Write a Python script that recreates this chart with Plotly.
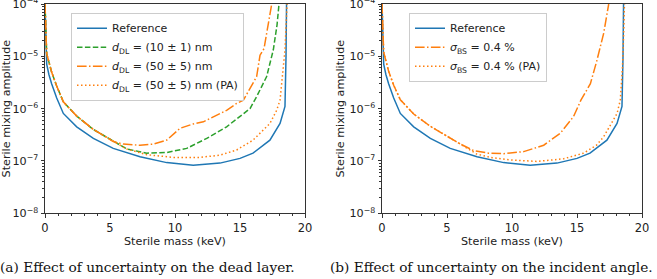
import plotly.graph_objects as go

# ---------------- data ----------------
# Reference curve (same in both panels)
ref_x = [0.0, 0.05, 0.13, 0.3, 0.51, 0.9, 1.41, 2.44, 3.72, 5.25, 7.31, 9.36, 11.4, 13.46, 15.0, 16.0, 17.3, 18.08, 18.46, 18.54, 18.58]
ref_y = [1e-4, 2.0e-5, 7.1e-6, 4.5e-6, 3.0e-6, 1.6e-6, 8.1e-7, 4.5e-7, 2.7e-7, 1.74e-7, 1.2e-7, 9.3e-8, 8.3e-8, 9.1e-8, 1.12e-7, 1.41e-7, 2.5e-7, 5.2e-7, 1.1e-6, 1.0e-5, 1e-4]

# (a) dead layer d_DL = (10 +- 1) nm
dl10_x = [0.0, 0.05, 0.13, 0.51, 0.9, 1.41, 2.44, 3.72, 5.25, 6.28, 7.82, 9.36, 10.9, 12.44, 13.97, 15.0, 15.77, 16.28, 17.05, 17.56, 17.85, 18.0]
dl10_y = [1e-4, 3.2e-5, 1.12e-5, 5.0e-6, 2.7e-6, 1.35e-6, 7.2e-7, 4.0e-7, 2.35e-7, 1.7e-7, 1.41e-7, 1.45e-7, 1.74e-7, 2.7e-7, 4.5e-7, 7.1e-7, 1.0e-6, 1.7e-6, 4.1e-6, 1.32e-5, 4.0e-5, 1e-4]

# (a) dead layer d_DL = (50 +- 5) nm
dl50_x = [0.0, 0.05, 0.13, 0.51, 0.9, 1.41, 2.44, 3.72, 5.25, 6.03, 7.31, 8.33, 9.36, 10.38, 11.4, 12.18, 13.2, 13.97, 14.74, 15.26, 16.28, 16.54, 16.85, 17.05, 17.3, 17.44]
dl50_y = [1e-4, 3.2e-5, 1.12e-5, 5.0e-6, 2.7e-6, 1.35e-6, 7.2e-7, 4.0e-7, 2.35e-7, 2.1e-7, 2.0e-7, 2.1e-7, 2.5e-7, 4.2e-7, 5.1e-7, 5.6e-7, 7.6e-7, 9.3e-7, 1.26e-6, 1.45e-6, 4.1e-6, 1.05e-5, 1.41e-5, 2.75e-5, 6.6e-5, 1e-4]

# (a) dead layer d_DL = (50 +- 5) nm (PA)
dl50pa_x = [0.0, 0.05, 0.13, 0.51, 0.9, 1.41, 2.44, 3.72, 5.25, 6.28, 7.82, 9.87, 11.9, 13.46, 14.74, 16.0, 17.3, 17.82, 18.08, 18.2, 18.46, 18.62]
dl50pa_y = [1e-4, 3.2e-5, 1.12e-5, 5.0e-6, 2.7e-6, 1.35e-6, 7.2e-7, 4.0e-7, 2.35e-7, 1.7e-7, 1.32e-7, 1.17e-7, 1.17e-7, 1.29e-7, 1.62e-7, 2.5e-7, 5.2e-7, 9.3e-7, 1.45e-6, 3.0e-6, 1.32e-5, 1e-4]

# (b) incident angle sigma_BS = 0.4 %
bs_x = [0.0, 0.05, 0.13, 0.51, 0.9, 1.41, 2.44, 3.72, 4.74, 6.03, 7.05, 8.2, 9.36, 10.9, 12.44, 13.72, 14.74, 15.3, 16.03, 16.54, 17.05, 17.3, 17.44]
bs_y = [1e-4, 3.5e-5, 1.2e-5, 5.2e-6, 2.8e-6, 1.48e-6, 7.9e-7, 4.6e-7, 3.2e-7, 2.1e-7, 1.58e-7, 1.41e-7, 1.38e-7, 1.51e-7, 2.0e-7, 3.4e-7, 7.1e-7, 1.45e-6, 3.0e-6, 8.5e-6, 2.75e-5, 6.6e-5, 1e-4]

# (b) incident angle sigma_BS = 0.4 % (PA)
bspa_x = [0.0, 0.05, 0.13, 0.51, 0.9, 1.41, 2.44, 3.72, 4.74, 6.03, 7.3, 8.5, 9.87, 11.9, 13.97, 15.5, 16.5, 17.05, 17.6, 18.08, 18.33, 18.5, 18.6, 18.65]
bspa_y = [1e-4, 3.5e-5, 1.2e-5, 5.2e-6, 2.8e-6, 1.48e-6, 7.9e-7, 4.6e-7, 3.2e-7, 2.1e-7, 1.35e-7, 1.15e-7, 1.05e-7, 9.8e-8, 1.1e-7, 1.41e-7, 2.0e-7, 2.9e-7, 5.0e-7, 8.1e-7, 1.45e-6, 6.3e-6, 3.2e-5, 1e-4]

y_tickvals = [1e-8, 1e-7, 1e-6, 1e-5, 1e-4]
y_ticktext = ["10<sup>−8</sup>", "10<sup>−7</sup>", "10<sup>−6</sup>", "10<sup>−5</sup>", "10<sup>−4</sup>"]
x_tickvals = [0, 5, 10, 15, 20]

names_a = ["Reference",
           "<i>d</i><sub>DL</sub> = (10 ± 1) nm",
           "<i>d</i><sub>DL</sub> = (50 ± 5) nm",
           "<i>d</i><sub>DL</sub> = (50 ± 5) nm (PA)"]
names_b = ["Reference",
           "<i>σ</i><sub>BS</sub> = 0.4 %",
           "<i>σ</i><sub>BS</sub> = 0.4 % (PA)"]
captions = ["(a) Effect of uncertainty on the dead layer.",
            "(b) Effect of uncertainty on the incident angle."]

# ---------------- styling ----------------
BLUE = "#1f77b4"
ORANGE = "#ff7f0e"
GREEN = "#2ca02c"
DASH = "5.5px,2.4px"
DASHDOT = "9.6px,2.4px,1.5px,2.4px"
DOT = "1.5px,2.5px"
FONT = "DejaVu Sans"
W, H = 657, 279

fig = go.Figure()


def add(x, y, color, dash, name, xa, ya, legend):
    fig.add_trace(go.Scatter(x=x, y=y, mode="lines", name=name,
                             line=dict(color=color, width=1.5, dash=dash),
                             xaxis=xa, yaxis=ya, legend=legend))


add(ref_x, ref_y, BLUE, "solid", names_a[0], "x", "y", "legend")
add(dl10_x, dl10_y, GREEN, DASH, names_a[1], "x", "y", "legend")
add(dl50_x, dl50_y, ORANGE, DASHDOT, names_a[2], "x", "y", "legend")
add(dl50pa_x, dl50pa_y, ORANGE, DOT, names_a[3], "x", "y", "legend")

add(ref_x, ref_y, BLUE, "solid", names_b[0], "x2", "y2", "legend2")
add(bs_x, bs_y, ORANGE, DASHDOT, names_b[1], "x2", "y2", "legend2")
add(bspa_x, bspa_y, ORANGE, DOT, names_b[2], "x2", "y2", "legend2")

ydom = [1 - 213.3 / H, 1 - 4 / H]
axcol = "#333333"
TXT = "#222222"

xcommon = dict(range=[0, 20], tickvals=x_tickvals, ticks="outside", ticklen=3.5,
               tickcolor=axcol, showline=True, linecolor=axcol, linewidth=1,
               mirror=True, showgrid=False, zeroline=False,
               ticklabeloverflow="allow",
               tickfont=dict(family=FONT, size=11.5, color=TXT),
               title=dict(text="Sterile mass (keV)", standoff=2,
                          font=dict(family=FONT, size=11.2, color=TXT)),
               minor=dict(ticks="outside", ticklen=2, tickcolor=axcol, dtick=1,
                          showgrid=False))
ycommon = dict(type="log", range=[-8, -4], tickvals=y_tickvals, ticktext=y_ticktext,
               ticks="outside", ticklen=3.5, tickcolor=axcol, showline=True,
               linecolor=axcol, linewidth=1, mirror=True, showgrid=False,
               zeroline=False, domain=ydom, ticklabeloverflow="allow",
               tickfont=dict(family=FONT, size=11.2, color=TXT),
               title=dict(text="Sterile mixing amplitude", standoff=2,
                          font=dict(family=FONT, size=11.2, color=TXT)),
               minor=dict(ticks="outside", ticklen=2, tickcolor=axcol, dtick="D1",
                          showgrid=False))

legcommon = dict(xanchor="left", yanchor="top", bgcolor="rgba(255,255,255,0.8)",
                 bordercolor="#cccccc", borderwidth=1,
                 font=dict(family=FONT, size=11, color=TXT),
                 itemwidth=30, tracegroupgap=0)

capfont = dict(family="DejaVu Serif", size=13.7, color="#111111")

fig.update_layout(
    width=W, height=H, margin=dict(l=0, r=0, t=0, b=0, autoexpand=False),
    paper_bgcolor="white", plot_bgcolor="white", showlegend=True,
    xaxis=dict(domain=[45 / W, 305 / W], anchor="y", **xcommon),
    yaxis=dict(anchor="x", **ycommon),
    xaxis2=dict(domain=[382 / W, 642 / W], anchor="y2", **xcommon),
    yaxis2=dict(anchor="x2", **ycommon),
    legend=dict(x=71 / W, y=1 - 12.7 / H, **legcommon),
    legend2=dict(x=409 / W, y=1 - 12.7 / H, **legcommon),
    annotations=[
        dict(text=captions[0], x=-2 / W, y=1 - 267 / H, xref="paper", yref="paper",
             xanchor="left", yanchor="middle", showarrow=False, font=capfont),
        dict(text=captions[1], x=328 / W, y=1 - 267 / H, xref="paper", yref="paper",
             xanchor="left", yanchor="middle", showarrow=False, font=capfont),
    ],
)

fig.write_html("out.html", config={"displayModeBar": False},
               post_script="document.body.style.margin='0';document.body.style.padding='0';")
